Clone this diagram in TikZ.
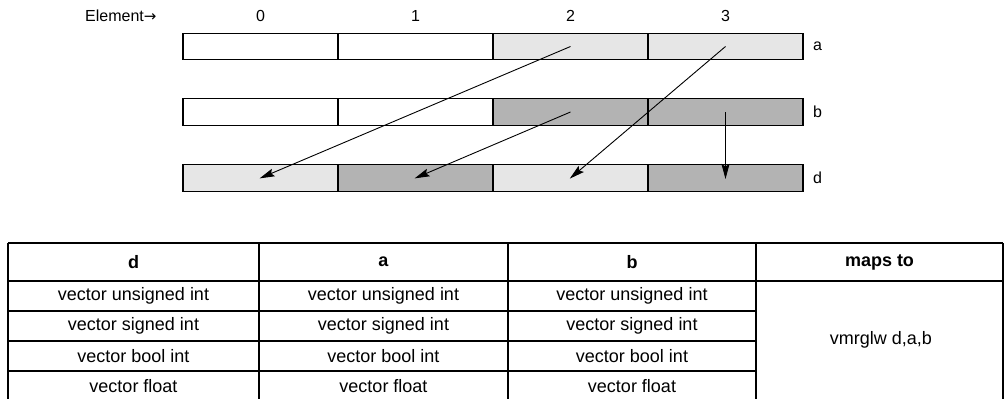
\documentclass[tikz,border=0pt]{standalone}
\usepackage{fontspec}
\setmainfont{Liberation Sans}
\newfontfamily\arrowfont{DejaVu Sans}
\usetikzlibrary{arrows.meta}
\begin{document}
\begin{tikzpicture}[x=1pt,y=-1pt,
  cell/.style={draw=black, line width=1.2pt, rectangle, minimum width=155pt, minimum height=26.5pt, inner sep=0pt},
  lite/.style={cell, fill=lightcell},
  dark/.style={cell, fill=darkcell},
  plain/.style={cell, fill=white},
  lbl/.style={inner sep=0pt, font=\fontsize{16}{18}\selectfont},
  tx/.style={inner sep=0pt, font=\fontsize{18}{20}\selectfont},
  hd/.style={inner sep=0pt, font=\fontsize{18}{20}\selectfont\bfseries},
  grid/.style={line width=2pt, black},
  arr/.style={-{Stealth[length=15pt,width=8pt,inset=2.5pt]}, line width=0.9pt, shorten >=-1pt}
]
\definecolor{lightcell}{HTML}{E6E6E6}
\definecolor{darkcell}{HTML}{B3B3B3}
\useasboundingbox (0,0) rectangle (1005,399);
\fill[white] (0,0) rectangle (1005,399);

% header labels
\node[lbl, anchor=west] (el) at (85,15.5) {Element{\arrowfont\fontsize{15}{18}\selectfont →}};
\node[lbl] (n0) at (260.5,15.5) {0};
\node[lbl] (n1) at (415.5,15.5) {1};
\node[lbl] (n2) at (570.5,15.5) {2};
\node[lbl] (n3) at (725.5,15.5) {3};

% bar a
\node[plain] (a0) at (260.5,46.5) {};
\node[plain] (a1) at (415.5,46.5) {};
\node[lite]  (a2) at (570.5,46.5) {};
\node[lite]  (a3) at (725.5,46.5) {};
\node[lbl, anchor=west] (la) at (813,46.5) {a};

% bar b
\node[plain] (b0) at (260.5,112) {};
\node[plain] (b1) at (415.5,112) {};
\node[dark]  (b2) at (570.5,112) {};
\node[dark]  (b3) at (725.5,112) {};
\node[lbl, anchor=west] (lb) at (813,112) {b};

% bar d
\node[lite]  (d0) at (260.5,178) {};
\node[dark]  (d1) at (415.5,178) {};
\node[lite]  (d2) at (570.5,178) {};
\node[dark]  (d3) at (725.5,178) {};
\node[lbl, anchor=west] (ld) at (813,178) {d};

% arrows
\draw[arr] (a2.center) -- (d0.center);
\draw[arr] (a3.center) -- (d2.center);
\draw[arr] (b2.center) -- (d1.center);
\draw[arr] (b3.center) -- (d3.center);

% table grid
\draw[grid] (8,243) -- (1003,243);
\draw[grid] (8,281) -- (1003,281);
\draw[grid] (8,311) -- (756,311);
\draw[grid] (8,341) -- (756,341);
\draw[grid] (8,371) -- (756,371);
\foreach \x in {8,259,508,756,1003} \draw[grid] (\x,243) -- (\x,405);

% table text
\node[hd] (hd) at (133.5,262) {d};
\node[hd] (ha) at (383.5,262) {a};
\node[hd] (hb) at (632,262) {b};
\node[hd] (hm) at (879.5,262) {maps to};

\node[tx] (r1d) at (133.5,296) {vector unsigned int};
\node[tx] (r1a) at (383.5,296) {vector unsigned int};
\node[tx] (r1b) at (632,296) {vector unsigned int};
\node[tx] (r2d) at (133.5,326) {vector signed int};
\node[tx] (r2a) at (383.5,326) {vector signed int};
\node[tx] (r2b) at (632,326) {vector signed int};
\node[tx] (r3d) at (133.5,356) {vector bool int};
\node[tx] (r3a) at (383.5,356) {vector bool int};
\node[tx] (r3b) at (632,356) {vector bool int};
\node[tx] (r4d) at (133.5,386) {vector float};
\node[tx] (r4a) at (383.5,386) {vector float};
\node[tx] (r4b) at (632,386) {vector float};
\node[tx] (mp) at (881,340) {vmrglw d,a,b};
\end{tikzpicture}
\end{document}
